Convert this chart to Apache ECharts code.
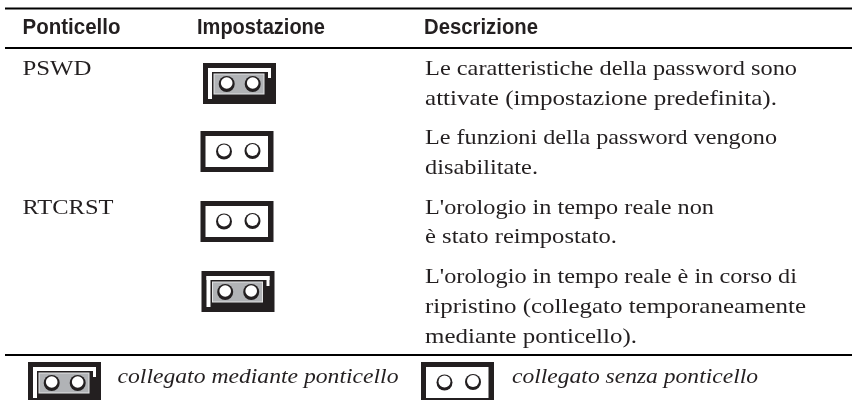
<!DOCTYPE html>
<html><head><meta charset="utf-8">
<style>html,body{margin:0;padding:0;background:#fff}#c{width:852px;height:400px}</style>
<script src="https://cdn.jsdelivr.net/npm/echarts@6/dist/echarts.min.js"></script>
</head><body><div id="c"></div>
<script>
var headers = ["Ponticello", "Impostazione", "Descrizione"];
var jumperNames = ["PSWD", "", "RTCRST", ""];
var jumperStates = ["closed", "open", "open", "closed"];
var descriptions = [
  ["Le caratteristiche della password sono", "attivate (impostazione predefinita)."],
  ["Le funzioni della password vengono", "disabilitate."],
  ["L'orologio in tempo reale non", "è stato reimpostato."],
  ["L'orologio in tempo reale è in corso di", "ripristino (collegato temporaneamente", "mediante ponticello)."]
];
var legendLabels = ["collegato mediante ponticello", "collegato senza ponticello"];
var legendStates = ["closed", "open"];

// layout
var INK = "#231f20", GREY = "#b1b3b6";
var headX = [22.5, 197, 424], headW = [98, 128, 114];
var nameX = 22.5, nameW = [69, 0, 91, 0];
var descX = 425;
var descW = [[372,352],[352,113],[289,192],[372,381,212]];
var rowBase = [[76.5,106.5],[145.5,175.5],[215.5,244.5],[284.5,314.5,344.5]];
var jumperPos = [[203,63],[200.5,131],[200.5,201],[201.5,271]];
var legendJumperPos = [[28,362],[421,362]];
var legendTextX = [117.5, 512], legendTextW = [281, 246];
var rules = [[7.5,2],[47,2],[354,2]];
var els = [];
var HF = '"Liberation Sans",sans-serif', BF = '"Liberation Serif",serif';
var ctx = document.createElement("canvas").getContext("2d");

function txt(s,x,base,width,font,size,w,st){
  ctx.font = (st||"normal")+" "+(w||"normal")+" "+size+"px "+font;
  var sx = width/ctx.measureText(s).width;
  els.push({type:"text",x:x,y:base,scaleX:sx,style:{text:s,x:0,y:0,fill:INK,fontFamily:font,fontSize:size,fontWeight:w||"normal",fontStyle:st||"normal",align:"left",verticalAlign:"bottom",lineHeight:Math.round(size*1.15),padding:[0,0,-Math.round(size*0.22),0]}});
}
function rect(x,y,w,h,c){els.push({type:"rect",shape:{x:x,y:y,width:w,height:h},style:{fill:c}});}
function hole(cx,cy,r,inner){
  els.push({type:"circle",shape:{cx:cx,cy:cy,r:r},style:{fill:INK}});
  els.push({type:"circle",shape:{cx:cx,cy:cy-1,r:inner},style:{fill:"#fff"}});
}
function jumper(state,x,y){
  rect(x,y,73,41,INK);
  if(state==="open"){
    rect(x+5,y+5,62.5,31,"#fff");
    hole(x+23.5,y+20.5,8,6); hole(x+52,y+20,8,6);
  } else {
    rect(x+5,y+5,63,4,"#fff");
    rect(x+5,y+5,4,31,"#fff");
    rect(x+65,y+5,3,10,"#fff");
    rect(x+10.5,y+10.5,51,21,"#e4e5e6");
    rect(x+11.5,y+11.5,49,19,GREY);
    hole(x+23.7,y+21,8,5.8); hole(x+49.7,y+21,8,5.8);
  }
}
rules.forEach(function(r){rect(5,r[0],847,r[1],"#000");});
headers.forEach(function(h,i){txt(h,headX[i],36,headW[i],HF,22.5,"bold");});
jumperNames.forEach(function(n,i){ if(n) txt(n,nameX,rowBase[i][0],nameW[i],BF,21); });
jumperStates.forEach(function(s,i){jumper(s,jumperPos[i][0],jumperPos[i][1]);});
descriptions.forEach(function(lines,i){lines.forEach(function(l,j){txt(l,descX,rowBase[i][j],descW[i][j],BF,21);});});
legendStates.forEach(function(s,i){jumper(s,legendJumperPos[i][0],legendJumperPos[i][1]);});
legendLabels.forEach(function(l,i){txt(l,legendTextX[i],384,legendTextW[i],BF,21,"normal","italic");});

var chart = echarts.init(document.getElementById("c"),null,{renderer:"canvas"});
chart.setOption({animation:false,backgroundColor:"#fff",graphic:{elements:els}});
</script></body></html>
